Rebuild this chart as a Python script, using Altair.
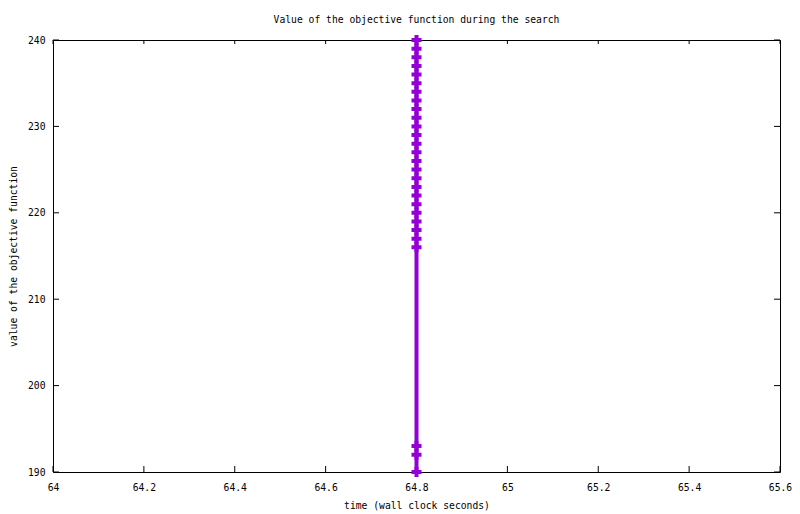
import altair as alt
import pandas as pd

# samples of the search (time, objective value)
times = [64.8, 64.8, 64.8, 64.8, 64.8, 64.8, 64.8, 64.8, 64.8, 64.8,
         64.8, 64.8, 64.8, 64.8, 64.8, 64.8, 64.8, 64.8, 64.8, 64.8,
         64.8, 64.8, 64.8, 64.8, 64.8, 64.8, 64.8, 64.8]
values = [240, 239, 238, 237, 236, 235, 234, 233, 232, 231,
          230, 229, 228, 227, 226, 225, 224, 223, 222, 221,
          220, 219, 218, 217, 216, 193, 192, 190]

x_ticks = [64, 64.2, 64.4, 64.6, 64.8, 65, 65.2, 65.4, 65.6]
y_ticks = [190, 200, 210, 220, 230, 240]

df = pd.DataFrame({'time': times, 'value': values, 'step': list(range(len(values)))})
xt = pd.DataFrame({'t': x_ticks})
yt = pd.DataFrame({'t': y_ticks})

W, H = 727, 432
FONT = 'DejaVu Sans Mono'
FS = 9.7
PURPLE = '#9400D3'
PLUS = 'M-1,-0.4H-0.4V-1H0.4V-0.4H1V0.4H0.4V1H-0.4V0.4H-1Z'

xscale = alt.Scale(domain=[64, 65.6], nice=False, zero=False)
yscale = alt.Scale(domain=[190, 240], nice=False, zero=False)

xaxis = alt.Axis(values=x_ticks, format='.1~f', title='time (wall clock seconds)',
                 domain=False, ticks=False, tickSize=0, grid=False, labelPadding=10,
                 labelFlush=False,
                 titleX=W / 2, titleY=33, titleBaseline='middle', titleAlign='center')
yaxis = alt.Axis(values=y_ticks, format='d', title='value of the objective function',
                 domain=False, ticks=False, tickSize=0, grid=False, labelPadding=8,
                 labelFlush=False,
                 titleX=-40, titleY=H / 2, titleBaseline='middle', titleAlign='center',
                 titleAngle=270)

base = alt.Chart(df).encode(
    x=alt.X('time:Q', scale=xscale, axis=xaxis),
    y=alt.Y('value:Q', scale=yscale, axis=yaxis),
    order='step:Q'
)

line = base.mark_line(color=PURPLE, strokeWidth=4)
points = base.mark_point(shape=PLUS, size=100, filled=True, color=PURPLE,
                         opacity=1, strokeWidth=0)

tick_top = alt.Chart(xt).mark_rule(color='black').encode(
    x=alt.X('t:Q', scale=xscale), y=alt.value(0), y2=alt.value(4))
tick_bot = alt.Chart(xt).mark_rule(color='black').encode(
    x=alt.X('t:Q', scale=xscale), y=alt.value(H - 6), y2=alt.value(H))
tick_left = alt.Chart(yt).mark_rule(color='black').encode(
    y=alt.Y('t:Q', scale=yscale), x=alt.value(0), x2=alt.value(6))
tick_right = alt.Chart(yt).mark_rule(color='black').encode(
    y=alt.Y('t:Q', scale=yscale), x=alt.value(W - 6), x2=alt.value(W))

chart = alt.layer(tick_top, tick_bot, tick_left, tick_right, line, points).properties(
    width=W, height=H,
    title=alt.TitleParams('Value of the objective function during the search',
                          font=FONT, fontSize=FS, fontWeight='normal', color='black',
                          anchor='middle', offset=7),
    autosize=alt.AutoSizeParams(type='none'),
    padding={'left': 45, 'top': 32, 'right': 12, 'bottom': 40}
).configure_view(
    stroke='black', strokeWidth=1
).configure_axis(
    labelFont=FONT, labelFontSize=FS, labelColor='black',
    titleFont=FONT, titleFontSize=FS, titleFontWeight='normal', titleColor='black'
)

chart.save('out.html', embed_options={'renderer': 'svg', 'actions': False})
